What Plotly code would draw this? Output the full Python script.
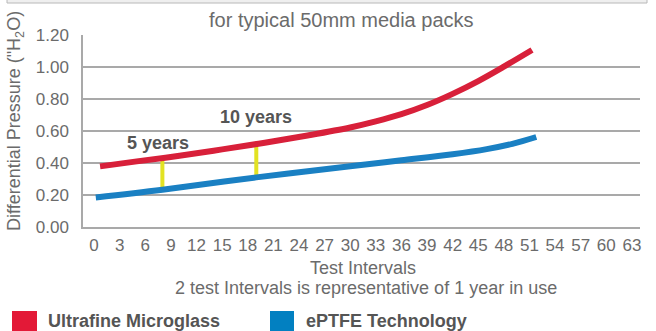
import plotly.graph_objects as go

# ---- data ----
red_name = "Ultrafine Microglass"
blue_name = "ePTFE Technology"
red_x = [0.7, 5, 10, 15, 20, 25, 30, 33, 36, 39, 42, 45, 48, 51.3]
red_y = [0.379, 0.41, 0.445, 0.485, 0.527, 0.572, 0.622, 0.66, 0.705, 0.762, 0.832, 0.912, 1.002, 1.106]
blue_x = [0.2, 8, 19, 30, 36, 42, 46, 49, 51.8]
blue_y = [0.185, 0.233, 0.31, 0.38, 0.417, 0.455, 0.487, 0.52, 0.5625]
marker_x = [8, 19]
marker_lo = [0.233, 0.31]
marker_hi = [0.44, 0.52]
marker_labels = ["5 years", "10 years"]
marker_label_xy = [(7.5, 0.524), (19.0, 0.689)]
x_ticks = list(range(0, 64, 3))
y_ticks = [0.0, 0.2, 0.4, 0.6, 0.8, 1.0, 1.2]

RED = "#d8203a"
BLUE = "#1a80c3"
YELLOW = "#e2e223"
GRID = "#a9a9a9"
TXT = "#6b6b6b"
DARK = "#555555"
FONT = "Liberation Sans, Arial, sans-serif"

W, H = 656, 331
L, R, T, B = 83, 640, 35, 227


def pxx(px):
    return (px - L) / (R - L)


def pxy(py):
    return (B - py) / (B - T)


fig = go.Figure()

for xv, lo, hi in zip(marker_x, marker_lo, marker_hi):
    fig.add_trace(go.Scatter(x=[xv, xv], y=[lo, hi], mode="lines",
                             line=dict(color=YELLOW, width=4), showlegend=False,
                             hoverinfo="skip"))

fig.add_trace(go.Scatter(x=red_x, y=red_y, mode="lines", name=red_name,
                         line=dict(color=RED, width=6, shape="spline", smoothing=1),
                         showlegend=False))
fig.add_trace(go.Scatter(x=blue_x, y=blue_y, mode="lines", name=blue_name,
                         line=dict(color=BLUE, width=6, shape="spline", smoothing=1),
                         showlegend=False))

annotations = []
for txt, (ax, ay) in zip(marker_labels, marker_label_xy):
    annotations.append(dict(x=ax, y=ay, xref="x", yref="y", text=f"<b>{txt}</b>",
                            showarrow=False, font=dict(size=18, color=DARK, family=FONT)))

annotations += [
    dict(x=pxx(341), y=pxy(20), xref="paper", yref="paper", text="for typical 50mm media packs",
         showarrow=False, xanchor="center", yanchor="middle",
         font=dict(size=20, color=TXT, family=FONT)),
    dict(x=pxx(363), y=pxy(268), xref="paper", yref="paper", text="Test Intervals",
         showarrow=False, xanchor="center", yanchor="middle",
         font=dict(size=18, color=TXT, family=FONT)),
    dict(x=pxx(366), y=pxy(288), xref="paper", yref="paper",
         text="2 test Intervals is representative of 1 year in use",
         showarrow=False, xanchor="center", yanchor="middle",
         font=dict(size=18, color=TXT, family=FONT)),
    dict(x=pxx(15), y=pxy(121), xref="paper", yref="paper",
         text='Differential Pressure ("H<sub>2</sub>O)', textangle=-90,
         showarrow=False, xanchor="center", yanchor="middle",
         font=dict(size=18, color=TXT, family=FONT)),
    dict(x=pxx(46), y=pxy(321), xref="paper", yref="paper", text=f"<b>{red_name}</b>",
         showarrow=False, xanchor="left", yanchor="middle",
         font=dict(size=18, color=DARK, family=FONT)),
    dict(x=pxx(304), y=pxy(321), xref="paper", yref="paper", text=f"<b>{blue_name}</b>",
         showarrow=False, xanchor="left", yanchor="middle",
         font=dict(size=18, color=DARK, family=FONT)),
]

shapes = [
    dict(type="rect", xref="paper", yref="paper", x0=pxx(7), x1=pxx(647), y0=pxy(3), y1=pxy(-6),
         fillcolor="#efefef", line=dict(color="#b8b8b8", width=1), layer="below"),
    dict(type="rect", xref="paper", yref="paper", x0=pxx(12), x1=pxx(37), y0=pxy(311), y1=pxy(340),
         fillcolor="#e31937", line=dict(width=0)),
    dict(type="rect", xref="paper", yref="paper", x0=pxx(270), x1=pxx(294), y0=pxy(311), y1=pxy(340),
         fillcolor="#0280c1", line=dict(width=0)),
]

fig.update_layout(
    width=W, height=H,
    margin=dict(l=L, r=W - R, t=T, b=H - B, pad=0),
    paper_bgcolor="white", plot_bgcolor="white",
    showlegend=False,
    annotations=annotations, shapes=shapes,
    font=dict(family=FONT, color=TXT),
)
fig.update_xaxes(range=[-1.3, 63.95], tickmode="array", tickvals=x_ticks,
                 ticktext=[str(v) for v in x_ticks], showgrid=False, zeroline=False,
                 showline=True, linecolor=GRID, linewidth=1.5, ticks="",
                 ticklabelstandoff=2, tickfont=dict(size=17, color=TXT, family=FONT))
fig.update_yaxes(range=[0, 1.2], tickmode="array", tickvals=y_ticks, tickformat=".2f",
                 showgrid=True, gridcolor=GRID, gridwidth=1.5, zeroline=False,
                 showline=True, linecolor=GRID, linewidth=1.5, ticks="",
                 ticklabelstandoff=9, tickfont=dict(size=17, color=TXT, family=FONT))

fig.write_html("out.html")
